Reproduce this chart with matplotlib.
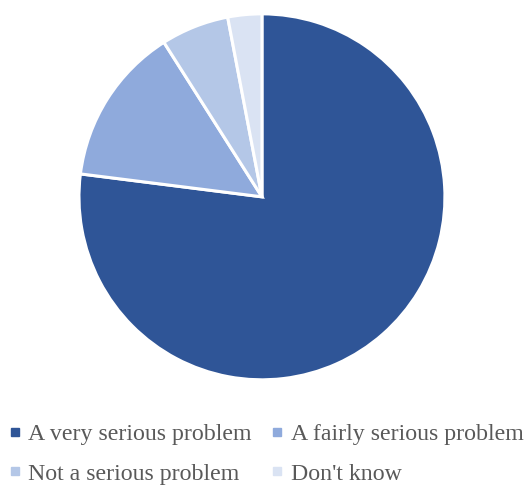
import matplotlib.pyplot as plt
from matplotlib.lines import Line2D

labels = ["A very serious problem", "A fairly serious problem",
          "Not a serious problem", "Don't know"]
values = [77, 14, 6, 3]
colors = ["#2F5597", "#8FAADC", "#B4C7E7", "#DAE3F3"]

plt.rcParams['font.family'] = ['Liberation Serif', 'DejaVu Serif']

fig = plt.figure(figsize=(5.26, 4.86), dpi=100)
ax = fig.add_axes([0.498 - 0.348, 0.595 - 0.3765, 0.696, 0.753])
ax.pie(values, colors=colors, startangle=90, counterclock=False,
       wedgeprops=dict(edgecolor="white", linewidth=2.2))
ax.set_xlim(-1.0, 1.0)
ax.set_ylim(-1.0, 1.0)
ax.set_aspect("equal")
ax.axis("off")

handles = [Line2D([0], [0], marker="s", linestyle="none", markersize=5.5,
                  markerfacecolor=c, markeredgecolor=c) for c in colors]
# legend fills column-wise, reorder so it reads row-wise
order = [0, 2, 1, 3]
fig.legend([handles[i] for i in order], [labels[i] for i in order],
           ncol=2, loc="center", bbox_to_anchor=(0.5, 0.066),
           frameon=False, fontsize=17.2, labelcolor="#595959",
           handletextpad=0.05, columnspacing=0.6, handlelength=1.0,
           labelspacing=0.75)

fig.savefig("out.png", dpi=100)
